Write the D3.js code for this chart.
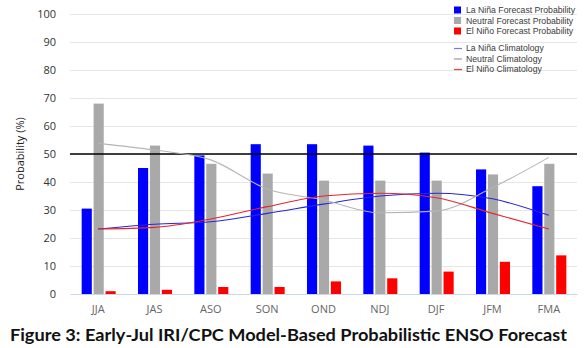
<!DOCTYPE html>
<html><head><meta charset="utf-8">
<script src="https://cdn.jsdelivr.net/npm/d3@7"></script>
<style>body{margin:0;background:#fff}svg{display:block}</style>
</head><body>
<svg id="c" width="587" height="348"></svg>
<script>
const categories = ["JJA","JAS","ASO","SON","OND","NDJ","DJF","JFM","FMA"];
const laNina  = [30.5, 45, 49.5, 53.5, 53.5, 53, 50.5, 44.5, 38.5];
const neutral = [68, 53, 46.5, 43, 40.5, 40.5, 40.5, 42.7, 46.5];
const elNino  = [1, 1.5, 2.5, 2.5, 4.5, 5.6, 8, 11.5, 13.8];
const laNinaClim  = [23.2, 24.9, 25.8, 28.8, 32.1, 35, 36, 34, 28.1];
const neutralClim = [53.8, 51.4, 47.9, 37.5, 33.6, 29, 29.6, 38, 48.8];
const elNinoClim  = [23.2, 23.8, 26.8, 31.2, 35, 36, 34.4, 28.8, 23.2];
const yTicks = [0,10,20,30,40,50,60,70,80,90,100];
const barSeries = [
  {name:"La Niña Forecast Probability", values: laNina, color:"#0000ff"},
  {name:"Neutral Forecast Probability", values: neutral, color:"#a9a9a9"},
  {name:"El Niño Forecast Probability", values: elNino, color:"#ff0000"}
];
const lineSeries = [
  {name:"La Niña Climatology", values: laNinaClim, color:"#2626d9"},
  {name:"Neutral Climatology", values: neutralClim, color:"#b5b5b5"},
  {name:"El Niño Climatology", values: elNinoClim, color:"#e3262b"}
];

const svg = d3.select("#c");
const L = 70, R = 577, T = 14, B = 294;
const x = d3.scaleBand().domain(categories).range([L, R]);
const y = d3.scaleLinear().domain([0,100]).range([B, T]);
const sub = d3.scaleBand().domain([0,1,2]).range([-16.5, 17.5]).paddingInner(0.15);

// grid
svg.append("g").selectAll("line").data(yTicks.filter(d=>d>0)).join("line")
  .attr("x1", L).attr("x2", R).attr("y1", d=>y(d)+0.5).attr("y2", d=>y(d)+0.5)
  .attr("stroke", "#e6e6e6").attr("stroke-width", 1);

// y axis labels
const ya = svg.append("g").attr("transform", `translate(${L-14},0)`)
  .call(d3.axisLeft(y).tickValues(yTicks).tickSize(0).tickPadding(0));
ya.select(".domain").remove();
ya.selectAll("text").attr("font-family","Open Sans, sans-serif").attr("font-size","11px").attr("fill","#333");

// x axis
const xa = svg.append("g").attr("transform", `translate(0,${B})`)
  .call(d3.axisBottom(x).tickSize(0).tickPadding(11));
xa.select(".domain").attr("stroke","#ccd6eb");
xa.selectAll("text").attr("font-family","Open Sans, sans-serif").attr("font-size","11px").attr("fill","#666");

// bars
barSeries.forEach((s,i)=>{
  svg.append("g").selectAll("rect").data(s.values).join("rect")
    .attr("x", (d,j)=> x(categories[j]) + x.bandwidth()/2 + sub(i))
    .attr("width", sub.bandwidth())
    .attr("y", d=>y(d)).attr("height", d=>B - y(d))
    .attr("fill", s.color);
});

// 50 line
svg.append("line").attr("x1", L).attr("x2", R).attr("y1", y(50)).attr("y2", y(50))
  .attr("stroke","#000").attr("stroke-width",1.5);

// climatology lines
const line = d3.line()
  .x((d,j)=> x(categories[j]) + x.bandwidth()/2)
  .y(d=>y(d)).curve(d3.curveMonotoneX);
lineSeries.forEach(s=>{
  svg.append("path").attr("d", line(s.values)).attr("fill","none")
    .attr("stroke", s.color).attr("stroke-width", 1.1);
});

// legend
const lg = svg.append("g").attr("font-family","Liberation Sans, Arial, sans-serif").attr("font-size","8.7px").attr("fill","#3a3a3a");
barSeries.forEach((s,i)=>{
  const yy = 10 + i*10.5;
  lg.append("rect").attr("x",454).attr("y",yy-3.5).attr("width",7).attr("height",7).attr("fill",s.color);
  lg.append("text").attr("x",466).attr("y",yy+3).text(s.name);
});
lineSeries.forEach((s,i)=>{
  const yy = 48 + i*10.5;
  lg.append("line").attr("x1",454).attr("x2",462).attr("y1",yy+0.5).attr("y2",yy+0.5)
    .attr("stroke", i===1 ? "#999" : (i===0 ? "#7777ee" : "#dd4444")).attr("stroke-width",1.2);
  lg.append("text").attr("x",466).attr("y",yy+3).text(s.name);
});

// y title
svg.append("text").attr("transform","translate(24,154) rotate(-90)")
  .attr("text-anchor","middle").attr("font-family","Open Sans, sans-serif").attr("font-size","11px")
  .attr("fill","#222").text("Probability (%)");

// figure title
svg.append("text").attr("x",10).attr("y",341)
  .attr("font-family","Lato, sans-serif").attr("font-weight","bold").attr("font-size","17px")
  .attr("fill","#111").attr("textLength",557).attr("lengthAdjust","spacingAndGlyphs")
  .text("Figure 3: Early-Jul IRI/CPC Model-Based Probabilistic ENSO Forecast");
</script>
</body></html>
